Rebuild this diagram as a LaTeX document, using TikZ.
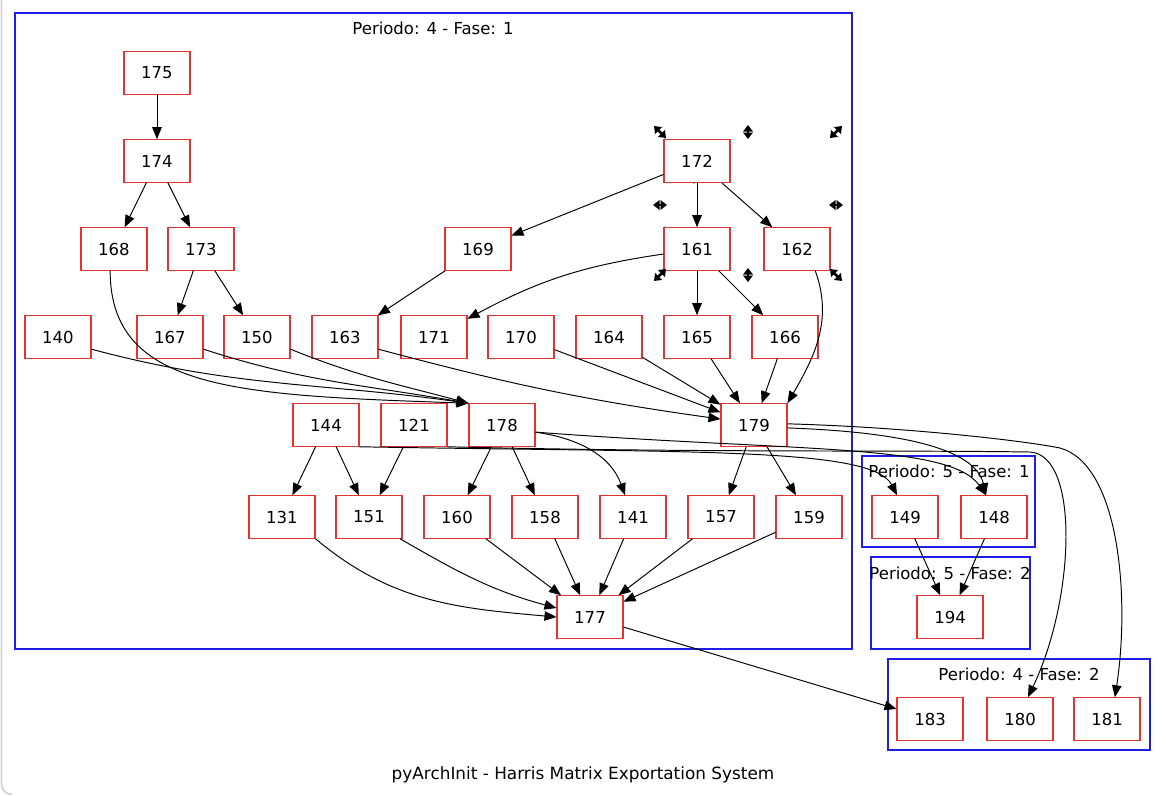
\documentclass[tikz,border=0pt]{standalone}
\usepackage{fontspec}
\setmainfont{DejaVu Sans}
\usepackage{tikz}
\usetikzlibrary{arrows.meta}

\definecolor{usred}{RGB}{232,50,50}
\definecolor{clblue}{RGB}{30,30,235}
\definecolor{handteal}{RGB}{40,150,140}

\tikzset{
  usbox/.style={draw=usred,line width=0.6pt,minimum width=1.32cm,minimum height=0.85cm,inner sep=0pt,font=\fontsize{9.4}{11}\selectfont},
  cluster/.style={draw=clblue,line width=0.8pt},
  cllabel/.style={inner sep=0pt,font=\fontsize{9.4}{11}\selectfont},
  link/.style={draw=black,line width=0.55pt,-{Triangle[length=2.4mm,width=1.9mm]}},
  handle/.style={line width=1.5pt,{Triangle[length=1.3mm,width=1.9mm]}-{Triangle[length=1.3mm,width=1.9mm]}},
}

\begin{document}
\begin{tikzpicture}[x=0.02cm,y=0.02cm]
  \useasboundingbox (0,0) rectangle (1166,-795);
  \draw[gray!35,line width=1pt] (1.5,0) -- (1.5,-784) to[out=-90,in=180] (12,-794.5);

  % periods and phases
  \draw[cluster] (15,-13) rectangle (852,-649);
  \draw[cluster] (862,-456) rectangle (1035,-547);
  \draw[cluster] (871,-557) rectangle (1030,-649);
  \draw[cluster] (888,-659) rectangle (1150,-750);
  \node[cllabel] (p4f1) at (433,-28) {Periodo: 4 - Fase: 1};
  \node[cllabel] (p5f1) at (949,-471) {Periodo: 5 - Fase: 1};
  \node[cllabel] (p5f2) at (950,-573) {Periodo: 5 - Fase: 2};
  \node[cllabel] (p4f2) at (1019,-674) {Periodo: 4 - Fase: 2};

  \begin{scope}[every node/.style={usbox}]
    \node (us175) at (157,-73) {175};
    \node (us174) at (157,-161) {174};
    \node (us172) at (697,-161) {172};
    \node (us168) at (114,-249) {168};
    \node (us173) at (201,-249) {173};
    \node (us169) at (478,-249) {169};
    \node (us161) at (697,-249) {161};
    \node (us162) at (797,-249) {162};
    \node (us140) at (58,-337) {140};
    \node (us167) at (170,-337) {167};
    \node (us150) at (257,-337) {150};
    \node (us163) at (345,-337) {163};
    \node (us171) at (434,-337) {171};
    \node (us170) at (521,-337) {170};
    \node (us164) at (609,-337) {164};
    \node (us165) at (697,-337) {165};
    \node (us166) at (785,-337) {166};
    \node (us144) at (326,-425) {144};
    \node (us121) at (414,-425) {121};
    \node (us178) at (502,-425) {178};
    \node (us179) at (754,-425) {179};
    \node (us131) at (282,-517) {131};
    \node (us151) at (369,-517) {151};
    \node (us160) at (457,-517) {160};
    \node (us158) at (545,-517) {158};
    \node (us141) at (633,-517) {141};
    \node (us157) at (721,-517) {157};
    \node (us159) at (809,-517) {159};
    \node (us149) at (905,-517) {149};
    \node (us148) at (994,-517) {148};
    \node (us177) at (590,-617) {177};
    \node (us194) at (950,-617) {194};
    \node (us183) at (930,-719) {183};
    \node (us180) at (1020,-719) {180};
    \node (us181) at (1107,-719) {181};
  \end{scope}

  \begin{scope}[every edge/.style={link}]
    \path (us175) edge (us174);
    \path (us174) edge (us168);
    \path (us174) edge (us173);
    \path (us173) edge (us167);
    \path (us173) edge (us150);
    \path (us172) edge (us169);
    \path (us172) edge (us161);
    \path (us172) edge (us162);
    \path (us169) edge (us163);
    \path (us161) edge[bend right=10] (us171);
    \path (us161) edge (us165);
    \path (us161) edge (us166);
    \path (us162.-50) edge[out=-70,in=60] (us179.north east);
    \path (us140.-20) edge[out=-15,in=172] (us178.north west);
    \path (us167.-20) edge[out=-18,in=170] (us178.north west);
    \path (us150.-20) edge[out=-22,in=165] (us178.north west);
    \path (us163.-20) edge[out=-15,in=172] (us179.170);
    \path (us170) edge (us179);
    \path (us164) edge (us179);
    \path (us165) edge (us179);
    \path (us166) edge (us179);
    \path (us144) edge (us131);
    \path (us144) edge (us151);
    \path (us121) edge (us151);
    \path (us178) edge (us160);
    \path (us178) edge (us158);
    \path (us178.-12) edge[out=-8,in=110] (us141.110);
    \path (us179) edge (us157);
    \path (us179) edge (us159);
    \path (us131.south east) edge[out=-40,in=175] (us177.west);
    \path (us151.-35) edge[out=-30,in=165] (us177.165);
    \path (us160) edge (us177);
    \path (us158) edge (us177);
    \path (us141) edge (us177);
    \path (us157) edge (us177);
    \path (us159) edge (us177);
    \path (us177) edge (us183);
    \path (us149) edge (us194);
    \path (us148) edge (us194);
  \end{scope}

  % long links
  \draw[link] (us168.-100) .. controls +(0,-120) and +(-230,8) .. (us178.north west);
  \draw[link] (us144.south east) .. controls +(340,-6) and +(-25,48) .. (us149.110);
  \draw[link] (us121.south east) .. controls +(250,-6) and +(-130,2) .. (1030,-452)
    .. controls +(50,-3) and +(47,98) .. (us180.70);
  \draw[link] (us178.-12) .. controls +(265,-20) and +(-36,52) .. (us148.110);
  \draw[link] (us179.-5) .. controls +(113,-4) and +(-11,47) .. (us148.110);
  \draw[link] (us179.2) .. controls +(113,-3) and +(-40,8) .. (1060,-448)
    .. controls +(60,-17) and +(15,98) .. (us181.70);

  % selection handles
  \draw[handle] (654,-126) -- (666,-138);
  \draw[handle] (748,-125) -- (748,-139);
  \draw[handle] (830,-138) -- (842,-126);
  \draw[handle] (653,-205) -- (667,-205);
  \draw[handle] (829,-205) -- (843,-205);
  \draw[handle] (654,-281) -- (666,-269);
  \draw[handle] (748,-268) -- (748,-282);
  \draw[handle] (830,-269) -- (842,-281);
  \foreach \p in {(665,-139),(694,-183),(723,-183),(665,-227),(766,-227)}
    \fill[handteal] \p circle (0.5pt);

  \node[inner sep=0pt,font=\fontsize{9.6}{11}\selectfont] (caption) at (583,-775) {pyArchInit - Harris Matrix Exportation System};
\end{tikzpicture}
\end{document}
